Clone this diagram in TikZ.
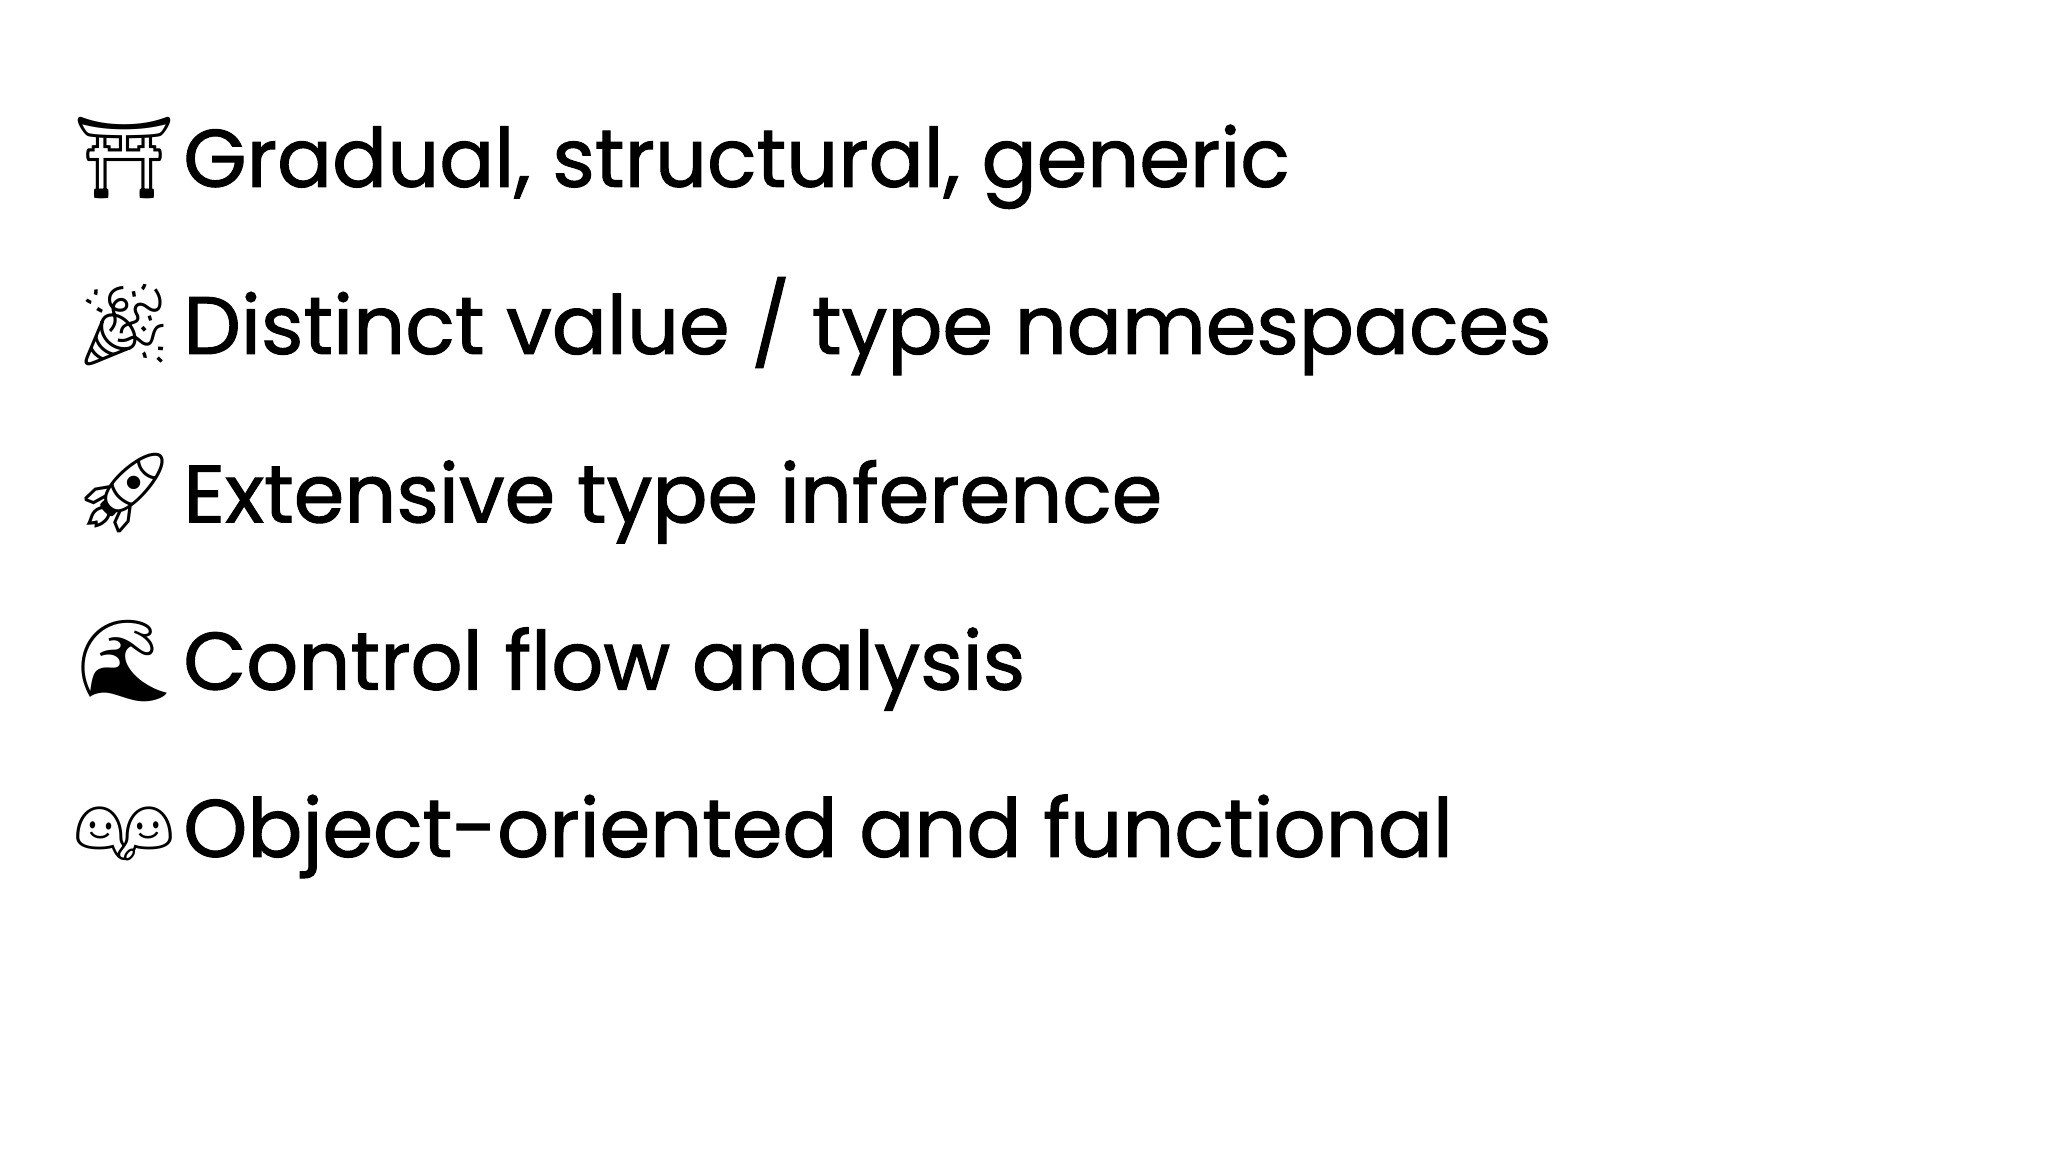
\documentclass[tikz,border=0pt]{standalone}
\usepackage{fontspec}
\setmainfont{Poppins}[FakeBold=1.3]
\newfontfamily\emo{Noto Emoji}
\begin{document}
\begin{tikzpicture}[x=0.02cm,y=-0.02cm,
  txt/.style={anchor=base west,inner sep=0pt,font=\fontsize{35.5}{44}\selectfont},
  emj/.style={anchor=base west,inner sep=0pt,font=\emo\fontsize{35}{40}\selectfont}]
\useasboundingbox[fill=white] (0,0) rectangle (1568,882);
\node[emj] (e1) at (56,142) {⛩};
\node[txt] (t1) at (140,143) {Gradual, structural, generic};
\node[emj] (e2) at (56,270) {🎉};
\node[txt] (t2) at (140,271) {Distinct value / type namespaces};
\node[emj] (e3) at (56,398) {🚀};
\node[txt] (t3) at (140,400) {Extensive type inference};
\node[emj] (e4) at (56,527) {🌊};
\node[txt] (t4) at (140,528) {Control flow analysis};
\node[emj] (e5) at (56,655) {👬};
\node[txt] (t5) at (140,656) {Object-oriented and functional};
\end{tikzpicture}
\end{document}
